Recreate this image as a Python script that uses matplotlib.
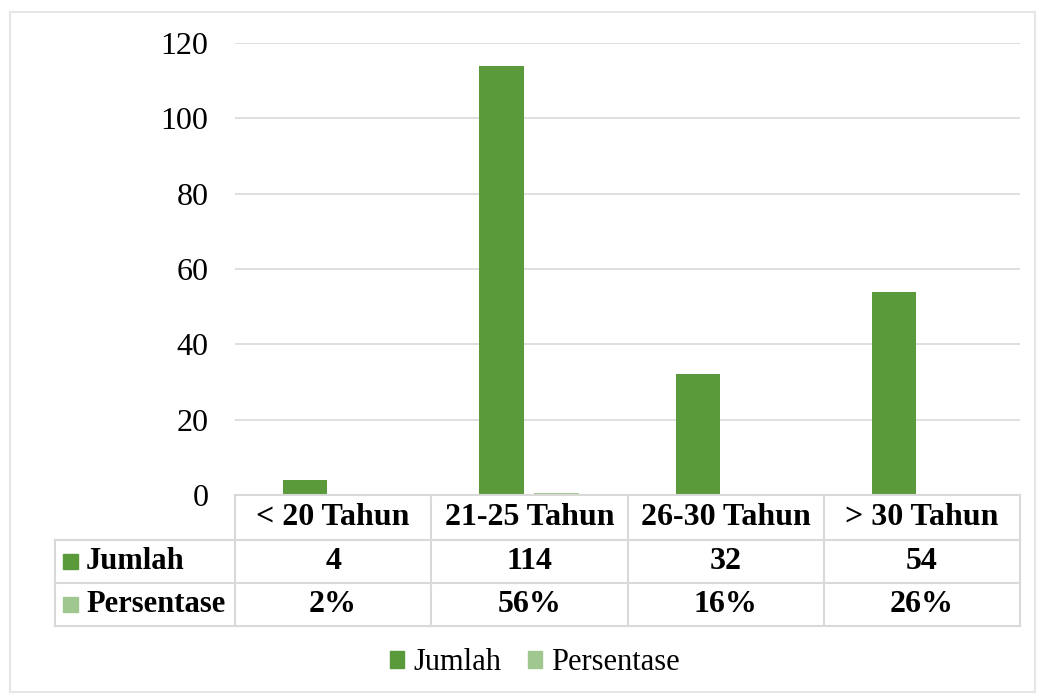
import matplotlib.pyplot as plt
import matplotlib.transforms as mtransforms
from matplotlib.patches import Rectangle
import numpy as np

categories = ["< 20 Tahun", "21-25 Tahun", "26-30 Tahun", "> 30 Tahun"]
jumlah = [4, 114, 32, 54]
persentase = [0.02, 0.56, 0.16, 0.26]
persen_labels = ["2%", "56%", "16%", "26%"]
series_names = ["Jumlah", "Persentase"]
yticks = [0, 20, 40, 60, 80, 100, 120]

GREEN = "#5b9a3b"
LIGHT_GREEN = "#a1c790"
LINE = "#d9d9d9"
FONT = "Liberation Serif"

W, H = 1044, 697
fig = plt.figure(figsize=(W / 100, H / 100), dpi=100)
fig.patch.set_facecolor("white")

# outer chart frame
fig.add_artist(Rectangle((10 / W, 1 - 692 / H), 1025 / W, 680 / H,
                         transform=fig.transFigure, fill=False,
                         edgecolor="#e6e6e6", linewidth=1.5))

ax = fig.add_axes([235 / W, 1 - 495 / H, 785 / W, 452 / H])
x = np.arange(len(categories))
width = 0.225
ax.bar(x - 0.142, jumlah, width, color=GREEN, zorder=3)
ax.bar(x + 0.138, persentase, width, color=LIGHT_GREEN, zorder=3)

ax.set_xlim(-0.5, len(categories) - 0.5)
ax.set_ylim(0, 120)
ax.set_yticks(yticks)
ax.set_yticklabels([str(t) for t in yticks], fontfamily=FONT, fontsize=23)
ax.tick_params(axis="y", length=0, pad=19)
ax.set_xticks([])
ax.grid(axis="y", color=LINE, linewidth=1.2, zorder=0)
for s in ax.spines.values():
    s.set_visible(False)

# data table under the plot: x follows the data, y in figure pixels
tr = mtransforms.blended_transform_factory(ax.transData, fig.transFigure)
fy = lambda py: 1 - py / H
rows_y = [495, 540, 583, 626]
left_px = 55 / W
x0, x1 = -0.5, len(categories) - 0.5

lw = 1.5
# horizontal lines
ax.plot([x0, x1], [fy(rows_y[0])] * 2, transform=tr, color=LINE, lw=lw, clip_on=False, zorder=4)
for py in rows_y[1:]:
    fig.add_artist(plt.Line2D([left_px, 1020 / W], [fy(py)] * 2,
                              transform=fig.transFigure, color=LINE, lw=lw))
# vertical lines
for b in np.arange(x0, x1 + 0.01, 1.0):
    ax.plot([b, b], [fy(rows_y[0]), fy(rows_y[-1])], transform=tr,
            color=LINE, lw=lw, clip_on=False)
fig.add_artist(plt.Line2D([left_px] * 2, [fy(rows_y[1]), fy(rows_y[-1])],
                          transform=fig.transFigure, color=LINE, lw=lw))

def row_mid(i):
    return fy((rows_y[i] + rows_y[i + 1]) / 2)

for i, cat in enumerate(categories):
    ax.text(x[i], row_mid(0), cat, transform=tr, ha="center", va="center",
            fontfamily=FONT, fontsize=23, fontweight="bold")
    ax.text(x[i], row_mid(1), str(jumlah[i]), transform=tr, ha="center", va="center",
            fontfamily=FONT, fontsize=23, fontweight="bold")
    ax.text(x[i], row_mid(2), persen_labels[i], transform=tr, ha="center", va="center",
            fontfamily=FONT, fontsize=23, fontweight="bold")

# row headers with series keys
for r, (name, col) in enumerate(zip(series_names, [GREEN, LIGHT_GREEN])):
    yc = row_mid(r + 1)
    fig.add_artist(Rectangle((63 / W, yc - 7 / H), 15 / W, 15 / H,
                             transform=fig.transFigure, color=col))
    fig.text(86 / W, yc, name, ha="left", va="center",
             fontfamily=FONT, fontsize=22, fontweight="bold")

# legend
handles = [Rectangle((0, 0), 1, 1, color=GREEN), Rectangle((0, 0), 1, 1, color=LIGHT_GREEN)]
fig.legend(handles, series_names, loc="center", bbox_to_anchor=(535 / W, 1 - 663 / H),
           ncol=2, frameon=False, prop={"family": FONT, "size": 22},
           handlelength=0.45, handleheight=0.45, handletextpad=0.3, columnspacing=0.9)

fig.savefig("out.png", dpi=100)
